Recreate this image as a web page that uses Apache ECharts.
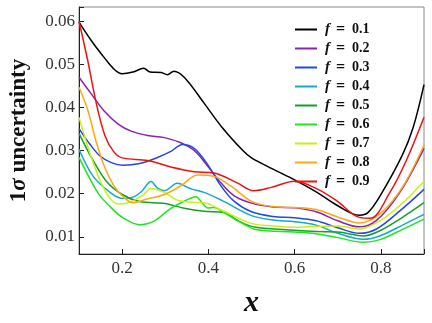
<!DOCTYPE html>
<html>
<head>
<meta charset="utf-8">
<script src="https://cdn.jsdelivr.net/npm/echarts@6/dist/echarts.min.js"></script>
<style>
  html, body { margin: 0; padding: 0; background: #fff; }
  #chart { width: 432px; height: 323px; }
</style>
</head>
<body>
<div id="chart"></div>
<script>
// curves, [x, 1-sigma]
var f01 = [[0.1,0.0598],[0.13,0.0553],[0.159,0.0515],[0.182,0.0488],[0.2,0.0478],[0.225,0.0482],[0.25,0.0491],[0.265,0.0482],[0.29,0.0481],[0.305,0.0476],[0.32,0.0484],[0.345,0.0469],[0.39,0.041],[0.43,0.0356],[0.48,0.030],[0.5,0.0283],[0.55,0.0257],[0.6,0.0232],[0.65,0.0204],[0.7,0.0172],[0.75,0.0150],[0.77,0.0156],[0.8,0.0198],[0.85,0.029],[0.875,0.0354],[0.9,0.0453]]
var f02 = [[0.1,0.047],[0.128,0.0432],[0.159,0.0391],[0.19,0.0362],[0.221,0.0345],[0.259,0.0335],[0.298,0.033],[0.336,0.0318],[0.367,0.030],[0.4,0.0262],[0.429,0.0225],[0.46,0.0195],[0.5,0.0178],[0.55,0.0169],[0.6,0.0167],[0.65,0.0158],[0.7,0.0137],[0.75,0.0123],[0.79,0.0138],[0.844,0.0203],[0.9,0.0305]]
var f03 = [[0.1,0.0351],[0.125,0.0315],[0.148,0.0288],[0.175,0.0272],[0.202,0.0266],[0.241,0.027],[0.282,0.0284],[0.313,0.0298],[0.34,0.0314],[0.367,0.0305],[0.398,0.0268],[0.429,0.0218],[0.46,0.0182],[0.5,0.0158],[0.55,0.0147],[0.6,0.0144],[0.65,0.0137],[0.7,0.0121],[0.75,0.0108],[0.79,0.0118],[0.844,0.016],[0.9,0.021]]
var f04 = [[0.1,0.0303],[0.133,0.024],[0.172,0.0203],[0.2,0.0189],[0.225,0.0192],[0.245,0.0205],[0.267,0.0228],[0.282,0.0213],[0.298,0.0207],[0.328,0.0224],[0.36,0.0211],[0.39,0.0203],[0.43,0.0185],[0.5,0.0149],[0.55,0.0139],[0.6,0.0135],[0.65,0.0127],[0.7,0.0108],[0.76,0.0094],[0.8,0.0103],[0.85,0.0127],[0.9,0.0152]]
var f05 = [[0.1,0.034],[0.13,0.0282],[0.164,0.0228],[0.2,0.0198],[0.24,0.0182],[0.3,0.0177],[0.344,0.0166],[0.39,0.0159],[0.436,0.0156],[0.475,0.0134],[0.51,0.0122],[0.6,0.0115],[0.65,0.0112],[0.7,0.0111],[0.76,0.0102],[0.8,0.0115],[0.85,0.0145],[0.9,0.0179]]
var f06 = [[0.1,0.0284],[0.125,0.0235],[0.148,0.0196],[0.179,0.0163],[0.202,0.0144],[0.24,0.0128],[0.275,0.0137],[0.313,0.0166],[0.345,0.0183],[0.371,0.0193],[0.386,0.0178],[0.398,0.0167],[0.413,0.0168],[0.436,0.0156],[0.475,0.0133],[0.513,0.0116],[0.6,0.0111],[0.65,0.0107],[0.7,0.0098],[0.76,0.0087],[0.8,0.0094],[0.85,0.0117],[0.9,0.0141]]
var f07 = [[0.1,0.0377],[0.125,0.0295],[0.15,0.0228],[0.175,0.0185],[0.195,0.0176],[0.22,0.0181],[0.248,0.0196],[0.267,0.0212],[0.298,0.0203],[0.328,0.0185],[0.36,0.018],[0.39,0.0179],[0.43,0.0162],[0.5,0.0131],[0.55,0.0125],[0.6,0.0122],[0.65,0.0124],[0.7,0.0125],[0.75,0.0118],[0.8,0.0138],[0.85,0.0178],[0.9,0.0229]]
var f08 = [[0.1,0.0447],[0.12,0.0395],[0.14,0.032],[0.16,0.026],[0.18,0.022],[0.2,0.0195],[0.225,0.0179],[0.256,0.0187],[0.298,0.0198],[0.336,0.0218],[0.375,0.0243],[0.413,0.024],[0.452,0.0218],[0.5,0.0182],[0.55,0.017],[0.6,0.0168],[0.65,0.0163],[0.7,0.0146],[0.75,0.0132],[0.8,0.0155],[0.85,0.0215],[0.9,0.0313]]
var f09 = [[0.1,0.060],[0.12,0.051],[0.14,0.041],[0.16,0.0335],[0.18,0.0298],[0.2,0.0283],[0.259,0.0277],[0.313,0.0262],[0.367,0.0251],[0.413,0.0248],[0.467,0.0225],[0.505,0.0207],[0.544,0.0214],[0.6,0.0229],[0.652,0.0211],[0.698,0.0183],[0.75,0.0145],[0.775,0.0143],[0.821,0.0203],[0.859,0.0277],[0.9,0.0377]]

var names = ['f = 0.1', 'f = 0.2', 'f = 0.3', 'f = 0.4', 'f = 0.5', 'f = 0.6', 'f = 0.7', 'f = 0.8', 'f = 0.9']
var curves = [f01, f02, f03, f04, f05, f06, f07, f08, f09]
var colors = ['#000000', '#8a22b4', '#1f48e6', '#12aac6', '#14a02a', '#1ee61e', '#c8f014', '#ffa814', '#f21010']

var serif = 'Liberation Serif'
var chart = echarts.init(document.getElementById('chart'))

var series = []
curves.forEach(function (d, i) {
  series.push({
    name: names[i],
    type: 'line',
    data: d,
    smooth: 0.35,
    symbol: 'none',
    lineStyle: { width: 1.5, color: colors[i] },
    itemStyle: { color: colors[i] }
  })
})

chart.setOption({
  animation: false,
  color: colors,
  grid: {
    left: 77, right: 8, top: 7, bottom: 58,
    show: true, borderColor: '#888', borderWidth: 1
  },
  legend: {
    orient: 'vertical',
    left: 290,
    top: 15,
    icon: 'rect',
    itemWidth: 22,
    itemHeight: 2,
    itemGap: 0,
    data: names,
    formatter: function (name) {
      return '{i|f}{e|=}{n|' + name.split('= ')[1] + '}'
    },
    textStyle: {
      fontFamily: serif, fontWeight: 'bold', fontSize: 14, color: '#111',
      lineHeight: 19,
      rich: {
        i: { fontFamily: serif, fontStyle: 'italic', fontWeight: 'bold', fontSize: 15, padding: [0, 0, 0, 3] },
        e: { fontFamily: serif, fontWeight: 'bold', fontSize: 16, padding: [0, 7, 0, 6] },
        n: { fontFamily: serif, fontWeight: 'bold', fontSize: 14 }
      }
    }
  },
  xAxis: {
    type: 'value',
    min: 0.1,
    max: 0.9,
    name: 'x',
    nameLocation: 'middle',
    nameGap: 34,
    nameTextStyle: { fontFamily: serif, fontStyle: 'italic', fontWeight: 'bold', fontSize: 30, color: '#111' },
    axisLine: { lineStyle: { color: '#222', width: 1 } },
    axisTick: { inside: true, length: 5, lineStyle: { color: '#222' } },
    splitLine: { show: false },
    axisLabel: {
      margin: 6,
      fontFamily: serif, fontSize: 17, color: '#333',
      formatter: function (v) {
        return Math.abs(v * 5 - Math.round(v * 5)) < 1e-6 ? v.toFixed(1) : ''
      }
    }
  },
  yAxis: {
    type: 'value',
    min: 0.006,
    max: 0.0633,
    name: '{a|1}{s|σ}{a| uncertainty}',
    nameLocation: 'middle',
    nameGap: 48,
    nameTextStyle: {
      color: '#111',
      rich: {
        a: { fontFamily: serif, fontWeight: 'bold', fontSize: 23 },
        s: { fontFamily: serif, fontStyle: 'italic', fontWeight: 'bold', fontSize: 23 }
      }
    },
    axisLine: { lineStyle: { color: '#222', width: 1 } },
    axisTick: { inside: true, length: 5, lineStyle: { color: '#222' } },
    splitLine: { show: false },
    axisLabel: {
      margin: 4,
      fontFamily: serif, fontSize: 17, color: '#333',
      formatter: function (v) {
        return Math.abs(v * 100 - Math.round(v * 100)) < 1e-6 ? v.toFixed(2) : ''
      }
    }
  },
  series: series
})
</script>
</body>
</html>
